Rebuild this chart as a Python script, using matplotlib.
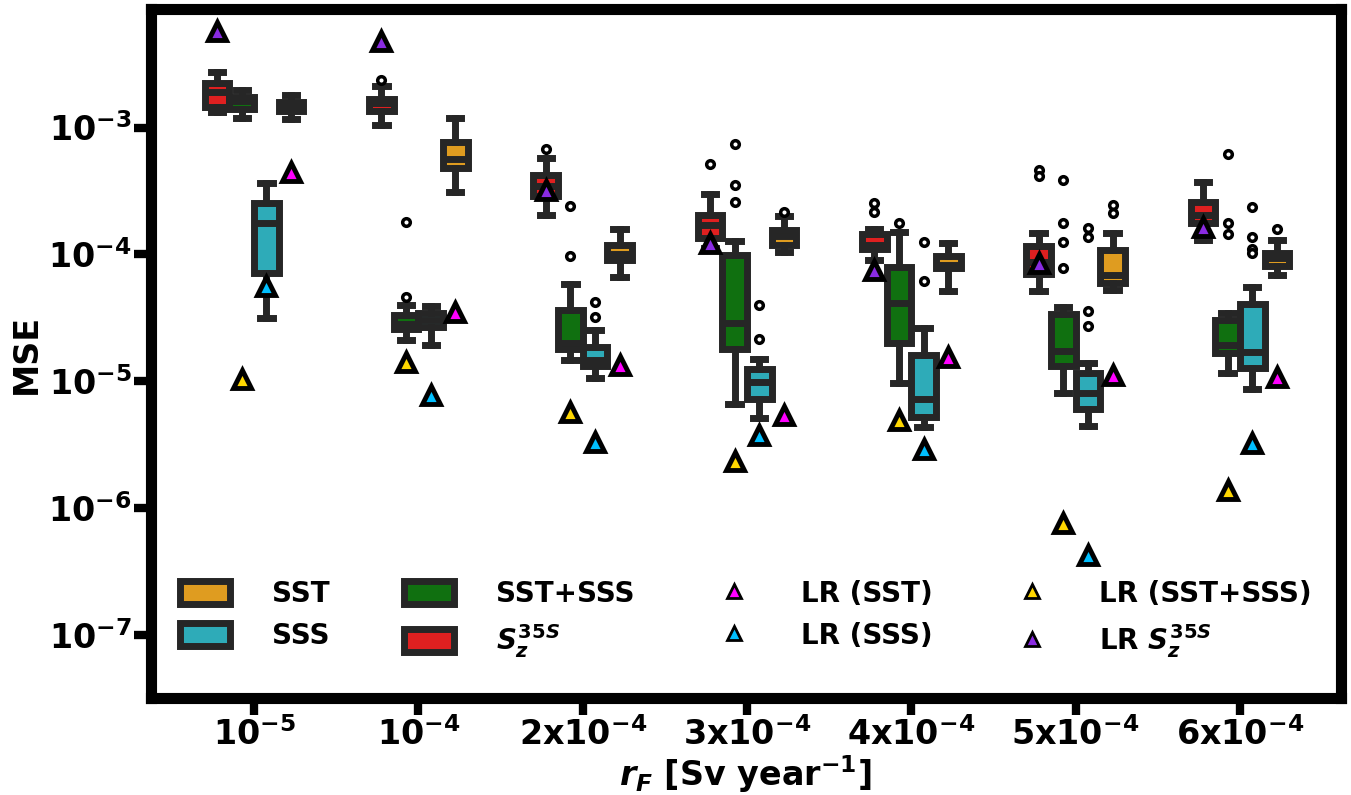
import matplotlib
matplotlib.use('Agg')
import matplotlib.pyplot as plt
from matplotlib.patches import Patch
from matplotlib.lines import Line2D

plt.rcParams['font.family'] = 'DejaVu Sans'
plt.rcParams['font.weight'] = 'bold'
plt.rcParams['mathtext.fontset'] = 'custom'
plt.rcParams['mathtext.rm'] = 'DejaVu Sans:bold'
plt.rcParams['mathtext.bf'] = 'DejaVu Sans:bold'
plt.rcParams['mathtext.it'] = 'DejaVu Sans:italic:bold'

# r_F categories
groups = ['$10^{-5}$', '$10^{-4}$', '2x$10^{-4}$', '3x$10^{-4}$',
          '4x$10^{-4}$', '5x$10^{-4}$', '6x$10^{-4}$']

# box stats per group: (whislo, q1, med, q3, whishi)
sz_box = [(1.32e-3, 1.45e-3, 1.9e-3, 2.26e-3, 2.75e-3),
          (1.04e-3, 1.34e-3, 1.56e-3, 1.67e-3, 2.14e-3),
          (2.04e-4, 2.91e-4, 3.46e-4, 4.2e-4, 5.71e-4),
          (1.12e-4, 1.34e-4, 1.72e-4, 2.04e-4, 2.99e-4),
          (9.03e-5, 1.10e-4, 1.19e-4, 1.46e-4, 1.6e-4),
          (5.18e-5, 7.03e-5, 8.7e-5, 1.16e-4, 1.48e-4),
          (1.31e-4, 1.78e-4, 2.03e-4, 2.58e-4, 3.7e-4)]
sz_fliers = [[], [2.37e-3], [6.78e-4], [5.15e-4], [2.53e-4, 2.17e-4],
             [4.62e-4, 4.15e-4], []]

both_box = [(1.19e-3, 1.39e-3, 1.62e-3, 1.74e-3, 1.99e-3),
            (2.12e-5, 2.58e-5, 2.83e-5, 3.33e-5, 3.99e-5),
            (1.47e-5, 1.8e-5, 2.02e-5, 3.65e-5, 5.85e-5),
            (6.62e-6, 1.8e-5, 2.86e-5, 9.87e-5, 1.28e-4),
            (9.64e-6, 2.0e-5, 4.16e-5, 7.98e-5, 1.51e-4),
            (8.13e-6, 1.31e-5, 1.73e-5, 3.38e-5, 3.83e-5),
            (1.17e-5, 1.66e-5, 1.93e-5, 3.03e-5, 3.44e-5)]
both_fliers = [[], [1.81e-4, 4.65e-5], [2.42e-4, 9.7e-5],
               [7.46e-4, 3.52e-4, 2.6e-4], [1.76e-4],
               [3.86e-4, 1.76e-4, 1.26e-4, 7.77e-5],
               [6.18e-4, 1.76e-4, 1.44e-4]]

sss_box = [(3.14e-5, 7.13e-5, 1.76e-4, 2.52e-4, 3.63e-4),
           (1.93e-5, 2.7e-5, 3.04e-5, 3.45e-5, 3.92e-5),
           (1.06e-5, 1.31e-5, 1.47e-5, 1.87e-5, 2.54e-5),
           (5.14e-6, 7.28e-6, 9.93e-6, 1.26e-5, 1.49e-5),
           (4.34e-6, 5.21e-6, 7.22e-6, 1.61e-5, 2.62e-5),
           (4.44e-6, 6.02e-6, 8.02e-6, 1.17e-5, 1.4e-5),
           (8.64e-6, 1.27e-5, 1.7e-5, 4.05e-5, 5.5e-5)]
sss_fliers = [[], [], [4.2e-5, 3.23e-5], [3.99e-5, 2.14e-5],
              [1.26e-4, 6.21e-5], [1.62e-4, 1.38e-4, 3.57e-5, 2.72e-5],
              [2.38e-4, 1.38e-4, 1.1e-4, 1.03e-4]]

sst_box = [(1.16e-3, 1.34e-3, 1.48e-3, 1.59e-3, 1.8e-3),
           (3.12e-4, 4.78e-4, 5.65e-4, 7.71e-4, 1.18e-3),
           (6.67e-5, 9.06e-5, 1.0e-4, 1.18e-4, 1.58e-4),
           (1.04e-4, 1.19e-4, 1.4e-4, 1.57e-4, 2.01e-4),
           (5.17e-5, 7.78e-5, 8.32e-5, 9.68e-5, 1.22e-4),
           (5.24e-5, 5.93e-5, 6.82e-5, 1.08e-4, 1.47e-4),
           (6.89e-5, 8.13e-5, 9.37e-5, 1.02e-4, 1.3e-4)]
sst_fliers = [[], [], [], [2.17e-4], [], [2.45e-4, 2.12e-4], [1.58e-4]]

# linear regression results
lr_sz = [5.75e-3, 4.81e-3, 3.23e-4, 1.22e-4, 7.53e-5, 8.51e-5, 1.65e-4]
lr_both = [1.05e-5, 1.43e-5, 5.77e-6, 2.35e-6, 4.96e-6, 7.59e-7, 1.39e-6]
lr_sss = [5.64e-5, 7.8e-6, 3.35e-6, 3.78e-6, 2.93e-6, 4.27e-7, 3.25e-6]
lr_sst = [4.46e-4, 3.53e-5, 1.34e-5, 5.43e-6, 1.56e-5, 1.12e-5, 1.08e-5]

dark = '#262626'
c_sst = '#df9c20'
c_sss = '#2eabb8'
c_both = '#107010'
c_sz = '#df2020'

fig = plt.figure(figsize=(13.51, 7.95), dpi=100)
ax = fig.add_axes([0.1114, 0.1214, 0.8812, 0.8673])
ax.set_yscale('log')

# order of boxes inside each group (left to right)
series = [(sz_box, sz_fliers, c_sz, lr_sz, '#8a2be2'),
          (both_box, both_fliers, c_both, lr_both, '#ffd700'),
          (sss_box, sss_fliers, c_sss, lr_sss, '#00bfff'),
          (sst_box, sst_fliers, c_sst, lr_sst, '#ff00ff')]
offsets = [-0.225, -0.075, 0.075, 0.225]
bw = 0.15

for g in range(len(groups)):
    for k, (box, fl, col, lr, lcol) in enumerate(series):
        lo, q1, med, q3, hi = box[g]
        st = dict(whislo=lo, q1=q1, med=med, q3=q3, whishi=hi, fliers=fl[g])
        ax.bxp([st], positions=[g + offsets[k]], widths=bw, capwidths=bw / 2,
               patch_artist=True, manage_ticks=False,
               boxprops=dict(facecolor=col, edgecolor=dark, linewidth=5),
               whiskerprops=dict(color=dark, linewidth=5),
               capprops=dict(color=dark, linewidth=5),
               medianprops=dict(color=dark, linewidth=5),
               flierprops=dict(marker='o', markerfacecolor='white',
                               markeredgecolor='black', markersize=5.5,
                               markeredgewidth=2.5, linestyle='none'))

for k, (box, fl, col, lr, lcol) in enumerate(series):
    xs = [g + offsets[k] for g in range(len(groups))]
    ax.plot(xs, lr, ls='none', marker='^', ms=13, mfc=lcol, mec='black',
            mew=3.5, zorder=5)

ax.set_xlim(-0.63, 6.615)
ax.set_ylim(3.16e-8, 8.6e-3)
ax.set_xticks(range(len(groups)))
ax.set_xticklabels(groups, fontsize=24, fontweight='bold')
ax.set_yticks([1e-7, 1e-6, 1e-5, 1e-4, 1e-3])
ax.set_yticklabels(['$10^{-7}$', '$10^{-6}$', '$10^{-5}$', '$10^{-4}$', '$10^{-3}$'],
                   fontsize=24)
ax.minorticks_off()
ax.tick_params(axis='both', direction='out', length=12.5, width=6, pad=1)
for s in ax.spines.values():
    s.set_linewidth(8)
    s.set_color('black')

ax.set_ylabel('MSE', fontsize=24, fontweight='bold', labelpad=4)
ax.set_xlabel('$r_F$ [Sv year$^{-1}$]', fontsize=24, fontweight='bold', labelpad=1)

handles = [Patch(facecolor=c_sst, edgecolor=dark, linewidth=5),
           Patch(facecolor=c_sss, edgecolor=dark, linewidth=5),
           Patch(facecolor=c_both, edgecolor=dark, linewidth=5),
           Patch(facecolor=c_sz, edgecolor=dark, linewidth=5),
           Line2D([], [], ls='none', marker='^', ms=10, mfc='#ff00ff', mec='black', mew=2),
           Line2D([], [], ls='none', marker='^', ms=10, mfc='#00bfff', mec='black', mew=2),
           Line2D([], [], ls='none', marker='^', ms=10, mfc='#ffd700', mec='black', mew=2),
           Line2D([], [], ls='none', marker='^', ms=10, mfc='#8a2be2', mec='black', mew=2)]
labels = ['SST', 'SSS', 'SST+SSS', '$S_z^{35S}$',
          'LR (SST)', 'LR (SSS)', 'LR (SST+SSS)', 'LR $S_z^{35S}$']
ax.legend(handles, labels, ncol=4, loc='lower center', bbox_to_anchor=(0.5, 0.02),
          frameon=False, prop=dict(size=20, weight='bold'),
          handlelength=1.8, handleheight=0.9,
          handletextpad=1.53, columnspacing=2.66)

plt.savefig('out.png', dpi=100)
